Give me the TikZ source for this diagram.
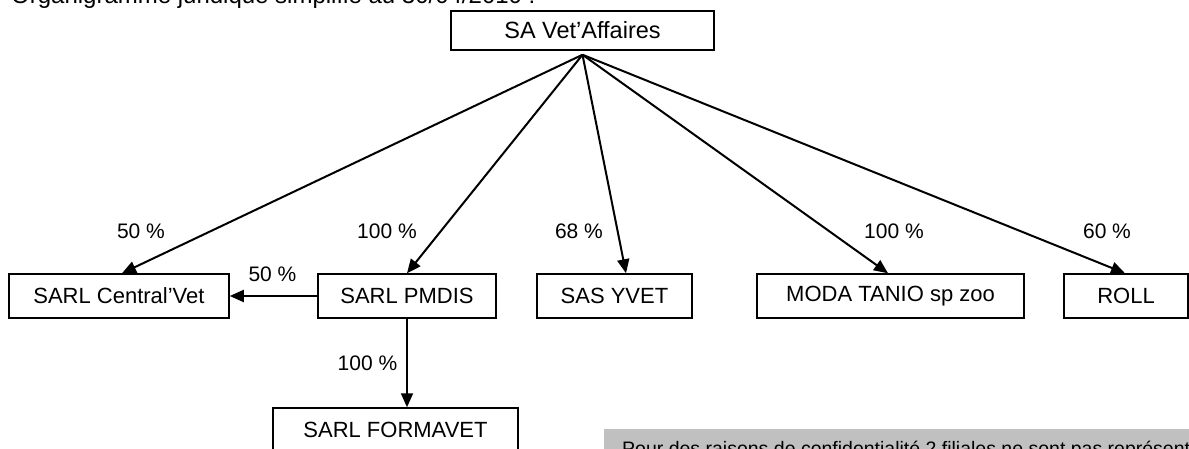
\documentclass[tikz,border=0pt]{standalone}
\usepackage{fontspec}
\setmainfont{Liberation Sans}
\usetikzlibrary{arrows.meta}
\definecolor{grayfill}{RGB}{192,192,192}
\tikzset{
  box/.style={draw=black, line width=1.5pt, inner sep=0pt, minimum height=44pt,
    font=\fontsize{22}{26}\selectfont},
  lab/.style={inner sep=0pt, font=\fontsize{21}{25}\selectfont},
  arr/.style={draw=black, line width=2pt, -{Triangle[length=14pt,width=12pt]}}
}
\begin{document}
\begin{tikzpicture}[x=1pt,y=-1pt]
\useasboundingbox (0,0) rectangle (1189,449);
\clip (0,0) rectangle (1189,449);
% title
\node[anchor=base west, inner sep=0pt, font=\fontsize{24}{28}\selectfont] (title) at (11,4) {Organigramme juridique simplifié au 30/04/2010 :};
% boxes
\node[box, minimum width=263pt, minimum height=39pt, font=\fontsize{23.5}{27}\selectfont] (sa) at (582.5,30.5) {SA Vet'Affaires};
\node[box, minimum width=220pt] (cv) at (119,296) {SARL Central'Vet};
\node[box, minimum width=178pt] (pm) at (407,296) {SARL PMDIS};
\node[box, minimum width=155pt] (sas) at (614.5,296) {SAS YVET};
\node[box, minimum width=267pt] (moda) at (890.5,296) {MODA TANIO sp zoo};
\node[box, minimum width=124pt] (roll) at (1126,296) {ROLL};
\node[box, minimum width=245pt] (form) at (395.5,430) {SARL FORMAVET};
% grey note
\node[anchor=north west, fill=grayfill, inner sep=0pt, minimum width=600pt, minimum height=50pt] (note) at (604,428.5) {};
\node[anchor=base west, inner sep=0pt, font=\fontsize{19.5}{23}\selectfont] (notetext) at (622,455) {Pour des raisons de confidentialité 2 filiales ne sont pas représentées};
% connectors
\coordinate (o) at ([yshift=-4pt]sa.south);
\draw[arr] (o) -- ([xshift=3pt]cv.north);
\draw[arr] (o) -- (pm.north);
\draw[arr] (o) -- ([xshift=11.5pt]sas.north);
\draw[arr] (o) -- ([xshift=-2.5pt]moda.north);
\draw[arr] (o) -- ([xshift=-1pt]roll.north);
\draw[arr] (pm.west) -- (cv.east);
\draw[arr] (pm.south) -- (pm.south |- form.north);
% labels
\node[lab] (l1) at (141,231) {50 \%};
\node[lab] (l2) at (387,231) {100 \%};
\node[lab] (l3) at (579,231) {68 \%};
\node[lab] (l4) at (894,231) {100 \%};
\node[lab] (l5) at (1107,231) {60 \%};
\node[lab] (l6) at (272.5,274) {50 \%};
\node[lab] (l7) at (367.5,363) {100 \%};
\end{tikzpicture}
\end{document}
